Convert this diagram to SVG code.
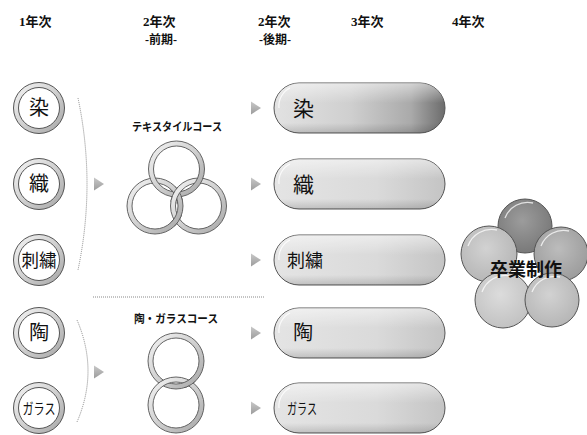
<svg xmlns="http://www.w3.org/2000/svg" width="587" height="435" viewBox="0 0 587 435">
<style>
.hd{font-family:"Liberation Serif","Noto Sans CJK JP",serif;font-weight:700;font-size:13px;fill:#111}
.sub{font-family:"Liberation Serif","Noto Sans CJK JP",serif;font-weight:700;font-size:12px;fill:#111}
.jp{font-family:"Noto Sans CJK JP",sans-serif;fill:#111;text-anchor:middle}
.pt{font-family:"Noto Sans CJK JP",sans-serif;fill:#111}
.lbl{font-family:"Noto Sans CJK JP",sans-serif;font-weight:700;font-size:11.5px;fill:#111;text-anchor:middle}
.band{fill:url(#bandG);stroke:#555;stroke-width:1}
.inner{fill:#fff;stroke:#555;stroke-width:1}
.ring{fill:url(#bandG);stroke:#555;stroke-width:0.9;fill-rule:evenodd}
.tri{fill:url(#triG)}
.pill{stroke:#555;stroke-width:1}
.shine{fill:url(#shineG)}
.hl{fill:none;stroke:#fff;stroke-width:1.2;opacity:0.8}
.fl{stroke:#555;stroke-width:1}
.flh{fill:none;stroke:#fff;stroke-width:1.3;opacity:0.75}
.brace{fill:none;stroke:#888;stroke-width:1;stroke-dasharray:1 1}
</style>
<defs>
<linearGradient id="bandG" x1="0" y1="0" x2="1" y2="1">
<stop offset="0" stop-color="#f6f6f6"/>
<stop offset="0.5" stop-color="#d0d0d0"/>
<stop offset="1" stop-color="#a4a4a4"/>
</linearGradient>
<linearGradient id="triG" x1="0" y1="0" x2="0" y2="1">
<stop offset="0" stop-color="#c8c8c8"/>
<stop offset="1" stop-color="#9c9c9c"/>
</linearGradient>
<linearGradient id="pill1G" x1="0" y1="0" x2="1" y2="0">
<stop offset="0" stop-color="#e2e2e2"/>
<stop offset="0.45" stop-color="#cfcfcf"/>
<stop offset="0.8" stop-color="#aaaaaa"/>
<stop offset="1" stop-color="#6c6c6c"/>
</linearGradient>
<linearGradient id="pillG" x1="0" y1="0" x2="1" y2="0">
<stop offset="0" stop-color="#e4e4e4"/>
<stop offset="0.6" stop-color="#dadada"/>
<stop offset="1" stop-color="#c4c4c4"/>
</linearGradient>
<linearGradient id="shineG" x1="0" y1="0" x2="0" y2="1">
<stop offset="0" stop-color="#fff" stop-opacity="0.5"/>
<stop offset="0.4" stop-color="#fff" stop-opacity="0"/>
<stop offset="0.8" stop-color="#000" stop-opacity="0"/>
<stop offset="1" stop-color="#000" stop-opacity="0.15"/>
</linearGradient>
<radialGradient id="fTop" cx="0.45" cy="0.4" r="0.65">
<stop offset="0" stop-color="#9c9c9c"/>
<stop offset="1" stop-color="#767676"/>
</radialGradient>
<radialGradient id="fRight" cx="0.45" cy="0.4" r="0.65">
<stop offset="0" stop-color="#bcbcbc"/>
<stop offset="1" stop-color="#9a9a9a"/>
</radialGradient>
<radialGradient id="fLeft" cx="0.45" cy="0.4" r="0.65">
<stop offset="0" stop-color="#d2d2d2"/>
<stop offset="1" stop-color="#b4b4b4"/>
</radialGradient>
<radialGradient id="fBL" cx="0.45" cy="0.4" r="0.65">
<stop offset="0" stop-color="#dcdcdc"/>
<stop offset="1" stop-color="#c0c0c0"/>
</radialGradient>
<radialGradient id="fBR" cx="0.45" cy="0.4" r="0.65">
<stop offset="0" stop-color="#d2d2d2"/>
<stop offset="1" stop-color="#b4b4b4"/>
</radialGradient>
<path id="ringP" class="ring" d="M-28,0a28,28 0 1,0 56,0a28,28 0 1,0 -56,0ZM-23,0a23,23 0 1,0 46,0a23,23 0 1,0 -46,0Z"/>
<path id="triP" class="tri" d="M0,-6.5L10,0L0,6.5Z"/>
<clipPath id="cC"><circle cx="176.5" cy="195" r="9"/></clipPath>
<clipPath id="cB"><circle cx="177" cy="220" r="7"/></clipPath>
<clipPath id="cG"><circle cx="189" cy="383" r="7"/></clipPath>
</defs>

<g id="headers">
<text class="hd" x="19" y="26">1年次</text>
<text class="hd" x="143" y="26">2年次</text>
<text class="sub" x="145" y="44">-前期-</text>
<text class="hd" x="258" y="26">2年次</text>
<text class="sub" x="259" y="44">-後期-</text>
<text class="hd" x="351" y="26">3年次</text>
<text class="hd" x="452" y="26">4年次</text>
</g>

<g id="y1-some">
<circle class="band" cx="39" cy="108" r="25.5"/><circle class="inner" cx="39" cy="108" r="20.5"/>
<text class="jp" x="39" y="115" font-size="20">染</text>
</g>
<g id="y1-ori">
<circle class="band" cx="39" cy="184" r="25.5"/><circle class="inner" cx="39" cy="184" r="20.5"/>
<text class="jp" x="39" y="191" font-size="20">織</text>
</g>
<g id="y1-shishu">
<circle class="band" cx="39" cy="260" r="25.5"/><circle class="inner" cx="39" cy="260" r="20.5"/>
<text class="jp" x="39" y="266.5" font-size="18" textLength="35" lengthAdjust="spacingAndGlyphs">刺繍</text>
</g>
<g id="y1-tou">
<circle class="band" cx="39" cy="333" r="25.5"/><circle class="inner" cx="39" cy="333" r="20.5"/>
<text class="jp" x="39" y="340" font-size="20">陶</text>
</g>
<g id="y1-glass">
<circle class="band" cx="39" cy="408" r="25.5"/><circle class="inner" cx="39" cy="408" r="20.5"/>
<text class="jp" x="39" y="413.5" font-size="15" textLength="33" lengthAdjust="spacingAndGlyphs">ガラス</text>
</g>

<g id="connectors">
<path class="brace" d="M78,98 Q96,184 78,270"/>
<path class="brace" d="M77,320 Q99,371 77,422"/>
<line x1="93" y1="297" x2="265" y2="297" stroke="#888" stroke-width="1" stroke-dasharray="1 1"/>
<use href="#triP" x="94" y="184"/>
<use href="#triP" x="94" y="372"/>
<use href="#triP" x="251" y="108"/>
<use href="#triP" x="251" y="184"/>
<use href="#triP" x="251" y="260"/>
<use href="#triP" x="251" y="333"/>
<use href="#triP" x="251" y="408"/>
</g>

<g id="textile-course">
<text class="lbl" x="177" y="131" textLength="90" lengthAdjust="spacingAndGlyphs">テキスタイルコース</text>
<use href="#ringP" x="155" y="206"/>
<use href="#ringP" x="198.5" y="206"/>
<use href="#ringP" x="176.5" y="169"/>
<g clip-path="url(#cC)">
<use href="#ringP" x="155" y="206"/>
<use href="#ringP" x="198.5" y="206"/>
</g>
<g clip-path="url(#cB)"><use href="#ringP" x="155" y="206"/></g>
</g>

<g id="glass-course">
<text class="lbl" x="176" y="323" textLength="84" lengthAdjust="spacingAndGlyphs">陶・ガラスコース</text>
<use href="#ringP" x="176" y="361"/>
<use href="#ringP" x="176" y="405"/>
<g clip-path="url(#cG)"><use href="#ringP" x="176" y="361"/></g>
</g>

<g id="p-some">
<rect class="pill" x="274" y="83" width="171" height="50" rx="25" fill="url(#pill1G)"/>
<rect class="shine" x="274" y="83" width="171" height="50" rx="25"/>
<path class="hl" d="M290,88 A20,20 0 0,0 279,108"/>
<text class="pt" x="293" y="115.5" font-size="21">染</text>
</g>
<g id="p-ori">
<rect class="pill" x="274" y="159" width="171" height="50" rx="25" fill="url(#pillG)"/>
<rect class="shine" x="274" y="159" width="171" height="50" rx="25"/>
<path class="hl" d="M290,164 A20,20 0 0,0 279,184"/>
<text class="pt" x="293" y="191.5" font-size="21">織</text>
</g>
<g id="p-shishu">
<rect class="pill" x="274" y="235" width="171" height="50" rx="25" fill="url(#pillG)"/>
<rect class="shine" x="274" y="235" width="171" height="50" rx="25"/>
<path class="hl" d="M290,240 A20,20 0 0,0 279,260"/>
<text class="pt" x="287" y="266.5" font-size="18">刺繍</text>
</g>
<g id="p-tou">
<rect class="pill" x="274" y="308" width="171" height="50" rx="25" fill="url(#pillG)"/>
<rect class="shine" x="274" y="308" width="171" height="50" rx="25"/>
<path class="hl" d="M290,313 A20,20 0 0,0 279,333"/>
<text class="pt" x="293" y="340" font-size="20">陶</text>
</g>
<g id="p-glass">
<rect class="pill" x="274" y="383" width="171" height="50" rx="25" fill="url(#pillG)"/>
<rect class="shine" x="274" y="383" width="171" height="50" rx="25"/>
<path class="hl" d="M290,388 A20,20 0 0,0 279,408"/>
<text class="pt" x="287" y="413.5" font-size="15" textLength="30" lengthAdjust="spacingAndGlyphs">ガラス</text>
</g>

<g id="sotsugyo">
<circle class="fl" cx="525" cy="226" r="27" fill="url(#fTop)"/>
<path class="flh" d="M505,218 A24,24 0 0,1 533,203"/>
<circle class="fl" cx="561" cy="254" r="27" fill="url(#fRight)"/>
<path class="flh" d="M541,246 A24,24 0 0,1 569,231"/>
<circle class="fl" cx="489" cy="254" r="28" fill="url(#fLeft)"/>
<path class="flh" d="M468,246 A25,25 0 0,1 497,230"/>
<circle class="fl" cx="503" cy="300" r="28" fill="url(#fBL)"/>
<path class="flh" d="M482,292 A25,25 0 0,1 511,276"/>
<circle class="fl" cx="552" cy="300" r="27" fill="url(#fBR)"/>
<path class="flh" d="M532,292 A24,24 0 0,1 560,277"/>
<text class="jp" x="526" y="276" font-size="18" font-weight="700">卒業制作</text>
</g>
</svg>
